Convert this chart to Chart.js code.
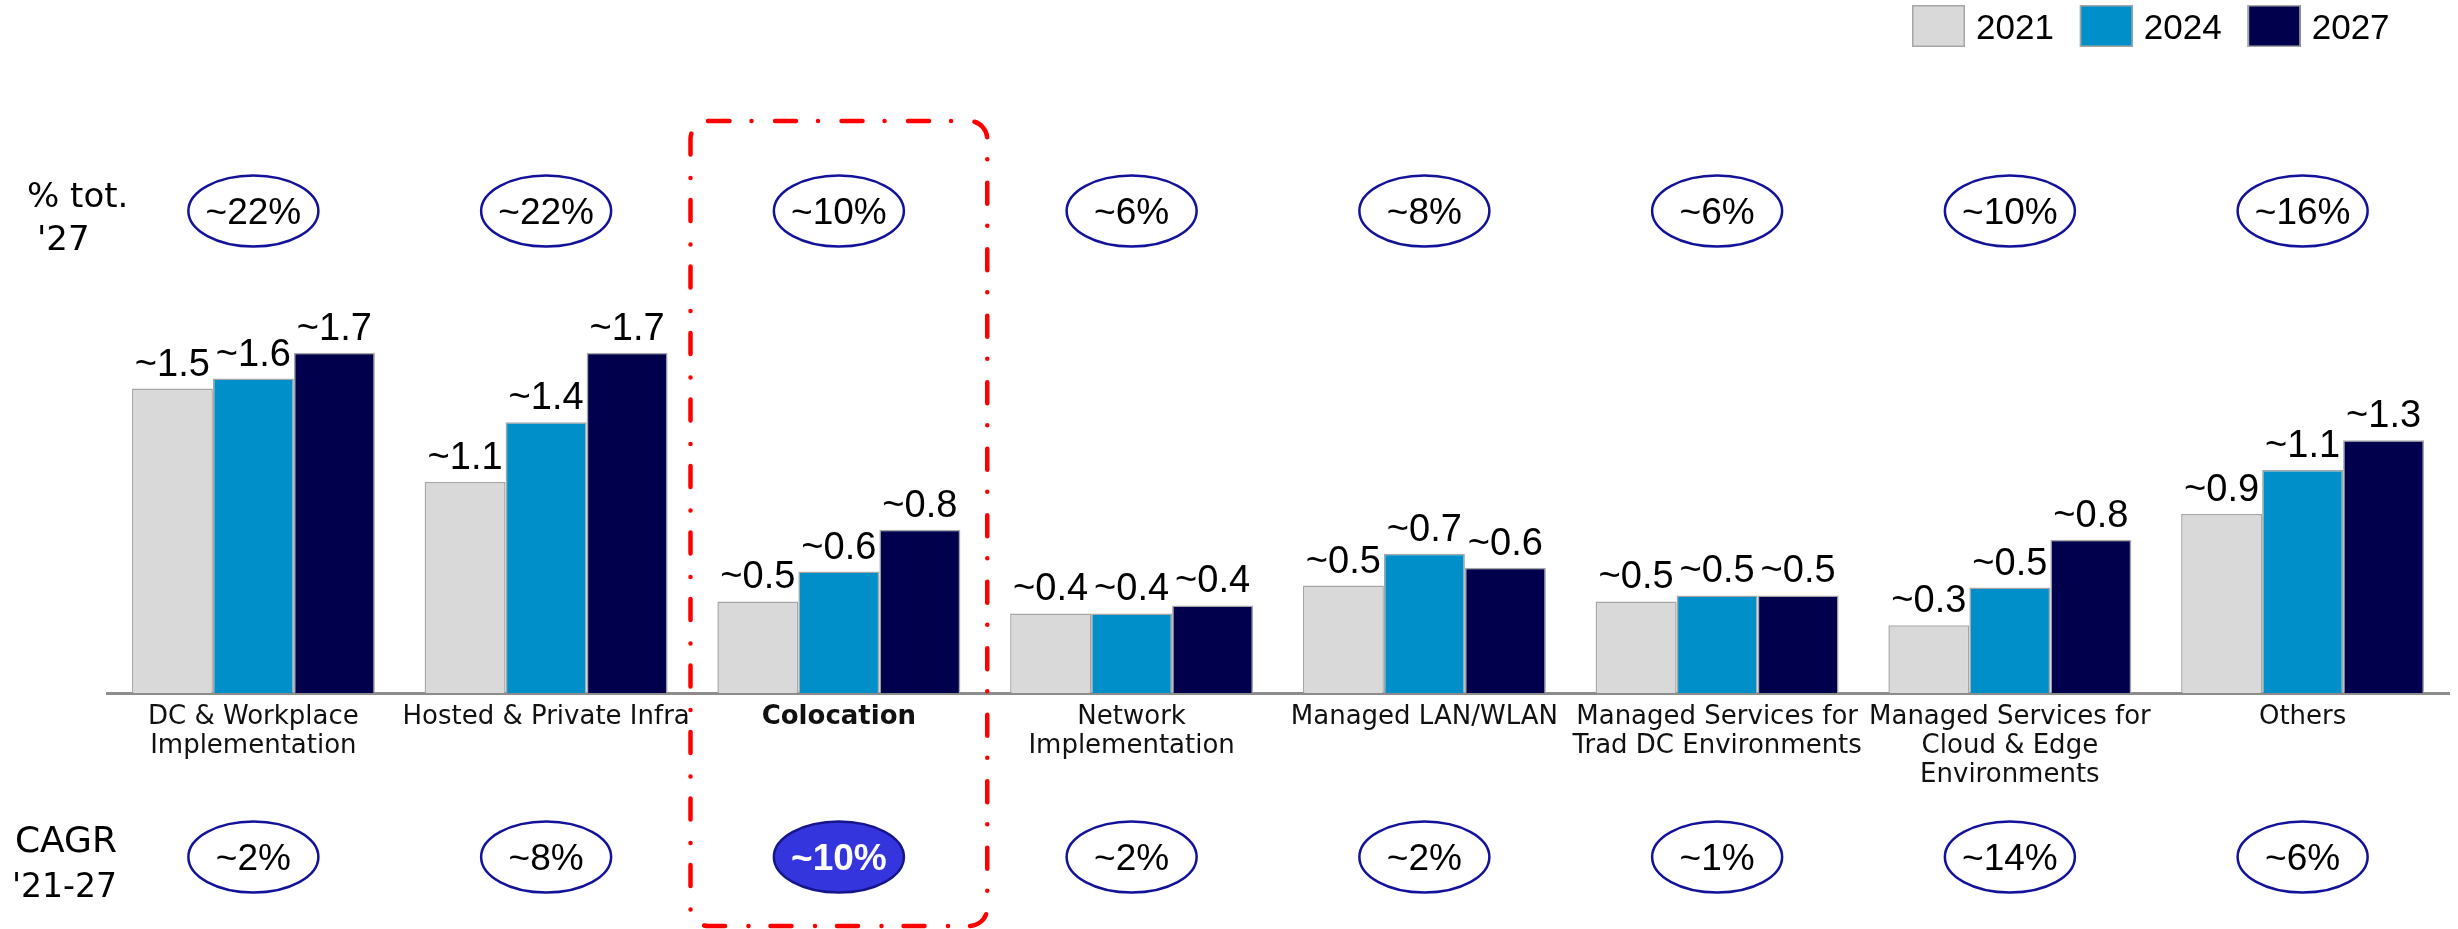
<!DOCTYPE html>
<html>
<head>
<meta charset="utf-8">
<script src="https://cdn.jsdelivr.net/npm/chart.js@4/dist/chart.umd.min.js"></script>
<style>
  html, body { margin: 0; padding: 0; background: #ffffff; overflow: hidden; }
  canvas { display: block; }
</style>
</head>
<body>
<canvas id="c" width="2458" height="929"></canvas>
<script>
// Market segments (x-axis categories)
const categories = [
  ['DC & Workplace', 'Implementation'],
  'Hosted & Private Infra',
  'Colocation',
  ['Network', 'Implementation'],
  'Managed LAN/WLAN',
  ['Managed Services for', 'Trad DC Environments'],
  ['Managed Services for', 'Cloud & Edge', 'Environments'],
  'Others'
];

// Series years and market size per segment
const seriesYears = ['2021', '2024', '2027'];
const values2021 = [1.53, 1.06, 0.46, 0.40, 0.54, 0.46, 0.34, 0.90];
const values2024 = [1.58, 1.36, 0.61, 0.40, 0.70, 0.49, 0.53, 1.12];
const values2027 = [1.71, 1.71, 0.82, 0.44, 0.63, 0.49, 0.77, 1.27];

// Share of 2027 total and CAGR '21-27 per segment
const share2027 = ['~22%', '~22%', '~10%', '~6%', '~8%', '~6%', '~10%', '~16%'];
const cagr2127 = ['~2%', '~8%', '~10%', '~2%', '~2%', '~1%', '~14%', '~6%'];

// Segment singled out with the dashed frame and filled badge
const highlightIndex = 2;

const seriesColors = ['#d9d9d9', '#008fc8', '#00004d'];
const TEXT_FONT = '"DejaVu Sans", sans-serif';
const NUM_FONT = '"Liberation Sans", Arial, sans-serif';

function badge(ctx, x, y, text, filled) {
  ctx.save();
  ctx.beginPath();
  ctx.ellipse(x, y, 65, 35.5, 0, 0, Math.PI * 2);
  if (filled) {
    ctx.fillStyle = '#3535dd';
    ctx.fill();
    ctx.strokeStyle = '#16168c';
  } else {
    ctx.strokeStyle = '#12129a';
  }
  ctx.lineWidth = 2.5;
  ctx.stroke();
  ctx.font = (filled ? 'bold ' : '') + '37px ' + NUM_FONT;
  ctx.fillStyle = filled ? '#ffffff' : '#000000';
  ctx.textAlign = 'center';
  ctx.textBaseline = 'alphabetic';
  ctx.fillText(text, x, y + 13);
  ctx.restore();
}

const overlay = {
  id: 'overlay',
  afterDatasetsDraw(chart) {
    const ctx = chart.ctx;
    ctx.save();
    ctx.font = '38px ' + NUM_FONT;
    ctx.fillStyle = '#000000';
    ctx.textAlign = 'center';
    ctx.textBaseline = 'alphabetic';
    chart.data.datasets.forEach((ds, di) => {
      chart.getDatasetMeta(di).data.forEach((bar, i) => {
        ctx.fillText('~' + ds.data[i].toFixed(1), bar.x, bar.y - 13);
      });
    });
    ctx.restore();
  },
  afterDraw(chart) {
    const ctx = chart.ctx;
    const xs = chart.scales.x;

    // Row titles
    ctx.save();
    ctx.fillStyle = '#000000';
    ctx.textBaseline = 'alphabetic';
    ctx.font = '34px ' + TEXT_FONT;
    ctx.textAlign = 'left';
    ctx.fillText('% tot.', 27, 207);
    ctx.fillText("'27", 37, 250);
    ctx.textAlign = 'right';
    ctx.font = '36px ' + TEXT_FONT;
    ctx.fillText('CAGR', 117, 852);
    ctx.font = '33px ' + TEXT_FONT;
    ctx.fillText("'21-27", 117, 897);
    ctx.restore();

    // Badges above and below each segment
    categories.forEach((_, i) => {
      const x = xs.getPixelForValue(i);
      badge(ctx, x, 211, share2027[i], false);
      badge(ctx, x, 857, cagr2127[i], i === highlightIndex);
    });

    // Dash-dot frame around the highlighted segment
    const cx = xs.getPixelForValue(highlightIndex);
    const half = xs.width / categories.length / 2 + 2;
    ctx.save();
    ctx.strokeStyle = '#ff0000';
    ctx.lineWidth = 4.5;
    ctx.lineCap = 'round';
    ctx.setLineDash([21, 22, 0.01, 23.5]);
    ctx.beginPath();
    ctx.roundRect(cx - half, 121, half * 2, 805, 18);
    ctx.stroke();
    ctx.restore();

    // Legend, top right
    ctx.save();
    ctx.font = '35px ' + NUM_FONT;
    ctx.textAlign = 'left';
    ctx.textBaseline = 'alphabetic';
    let lx = 1912;
    chart.data.datasets.forEach((ds) => {
      ctx.fillStyle = ds.backgroundColor;
      ctx.fillRect(lx, 5, 53, 42);
      ctx.strokeStyle = '#a6a6a6';
      ctx.lineWidth = 1.5;
      ctx.strokeRect(lx + 0.75, 5.75, 51.5, 40.5);
      ctx.fillStyle = '#000000';
      ctx.fillText(ds.label, lx + 64, 39);
      lx += 64 + ctx.measureText(ds.label).width + 26;
    });
    ctx.restore();
  }
};

new Chart(document.getElementById('c'), {
  type: 'bar',
  data: {
    labels: categories,
    datasets: [
      { label: seriesYears[0], data: values2021, backgroundColor: seriesColors[0] },
      { label: seriesYears[1], data: values2024, backgroundColor: seriesColors[1] },
      { label: seriesYears[2], data: values2027, backgroundColor: seriesColors[2] }
    ]
  },
  options: {
    responsive: false,
    animation: false,
    devicePixelRatio: 1,
    layout: { padding: { left: 107, right: 9, top: 295, bottom: 129 } },
    datasets: {
      bar: {
        categoryPercentage: 0.83,
        barPercentage: 1,
        borderColor: '#a6a6a6',
        borderWidth: 1.5,
        borderSkipped: 'bottom'
      }
    },
    scales: {
      x: {
        grid: { display: false, drawTicks: false },
        border: { display: true, color: '#8c8c8c', width: 3 },
        ticks: {
          autoSkip: false,
          maxRotation: 0,
          minRotation: 0,
          padding: 10,
          color: '#111111',
          font: (c) => ({
            family: TEXT_FONT,
            size: 26,
            lineHeight: '29px',
            weight: c.index === highlightIndex ? 'bold' : 'normal'
          })
        }
      },
      y: { display: false, min: 0, max: 2 }
    },
    plugins: {
      legend: { display: false },
      tooltip: { enabled: false }
    }
  },
  plugins: [overlay]
});
</script>
</body>
</html>
